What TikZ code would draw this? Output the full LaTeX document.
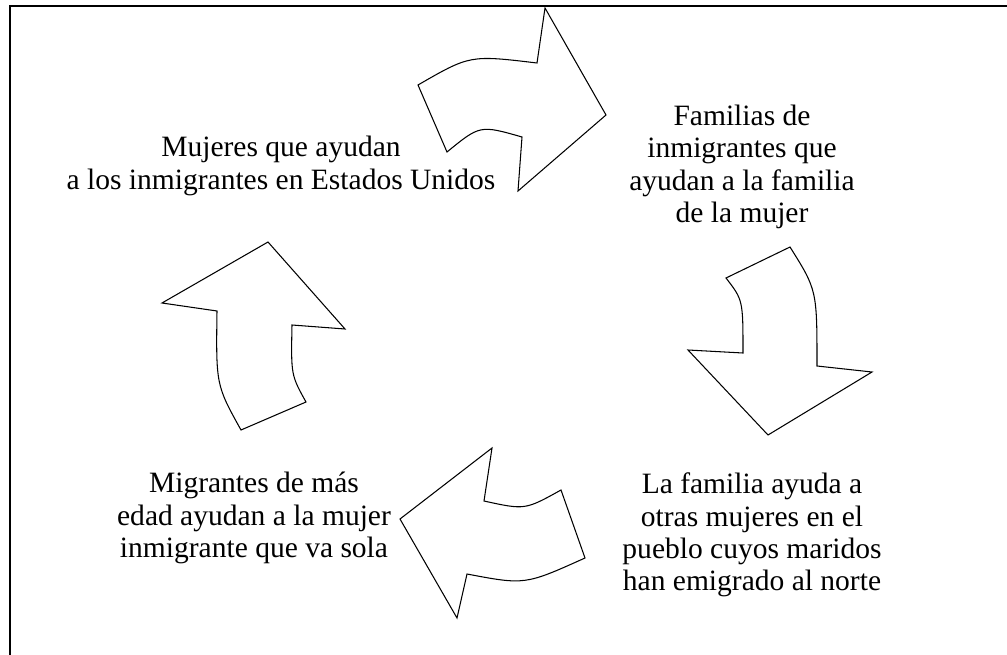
\documentclass[tikz,border=0pt]{standalone}
\usepackage{fontspec}
\setmainfont{Liberation Serif}
\usepackage{tikz}

\begin{document}
\begin{tikzpicture}[x=0.02cm, y=-0.02cm,
    txt/.style={align=center, inner sep=0pt, font=\fontsize{16.8}{18.4}\selectfont},
    blk/.style={draw, line width=0.6pt, line join=miter}]
    \useasboundingbox (0,0) rectangle (1007,655);
    \draw[line width=0.8pt] (10,655) -- (10,6) -- (1007,6);

    \node[txt] (TMujeres) at (281,166) {Mujeres que ayudan\\a los inmigrantes en Estados Unidos};
    \node[txt] (TFamilias) at (742,167) {Familias de\\inmigrantes que\\ayudan a la familia\\de la mujer};
    \node[txt] (TPueblo) at (752,535) {La familia ayuda a\\otras mujeres en el\\pueblo cuyos maridos\\han emigrado al norte};
    \node[txt] (TMigrantes) at (254,518) {Migrantes de más\\edad ayudan a la mujer\\inmigrante que va sola};

    \draw[blk] (418,85) .. controls (470,55) .. (537,63) -- (545,8) -- (606,115)
        -- (518,191) -- (522,137) .. controls (480,125) .. (447,152) -- cycle;
    \draw[blk] (726,278) -- (790,247) .. controls (817,290) .. (817,366) -- (872,372)
        -- (768,435) -- (688,350) -- (743,353) .. controls (743,300) .. (726,278) -- cycle;
    \draw[blk] (400,519) -- (492,448) -- (484,501) .. controls (525,510) .. (561,490)
        -- (585,558) .. controls (525,585) .. (467,574) -- (457,618) -- cycle;
    \draw[blk] (268,242) -- (345,329) -- (292,325) .. controls (291,375) .. (306,402)
        -- (241,430) .. controls (216,385) .. (217,311) -- (162,303) -- cycle;
\end{tikzpicture}
\end{document}
